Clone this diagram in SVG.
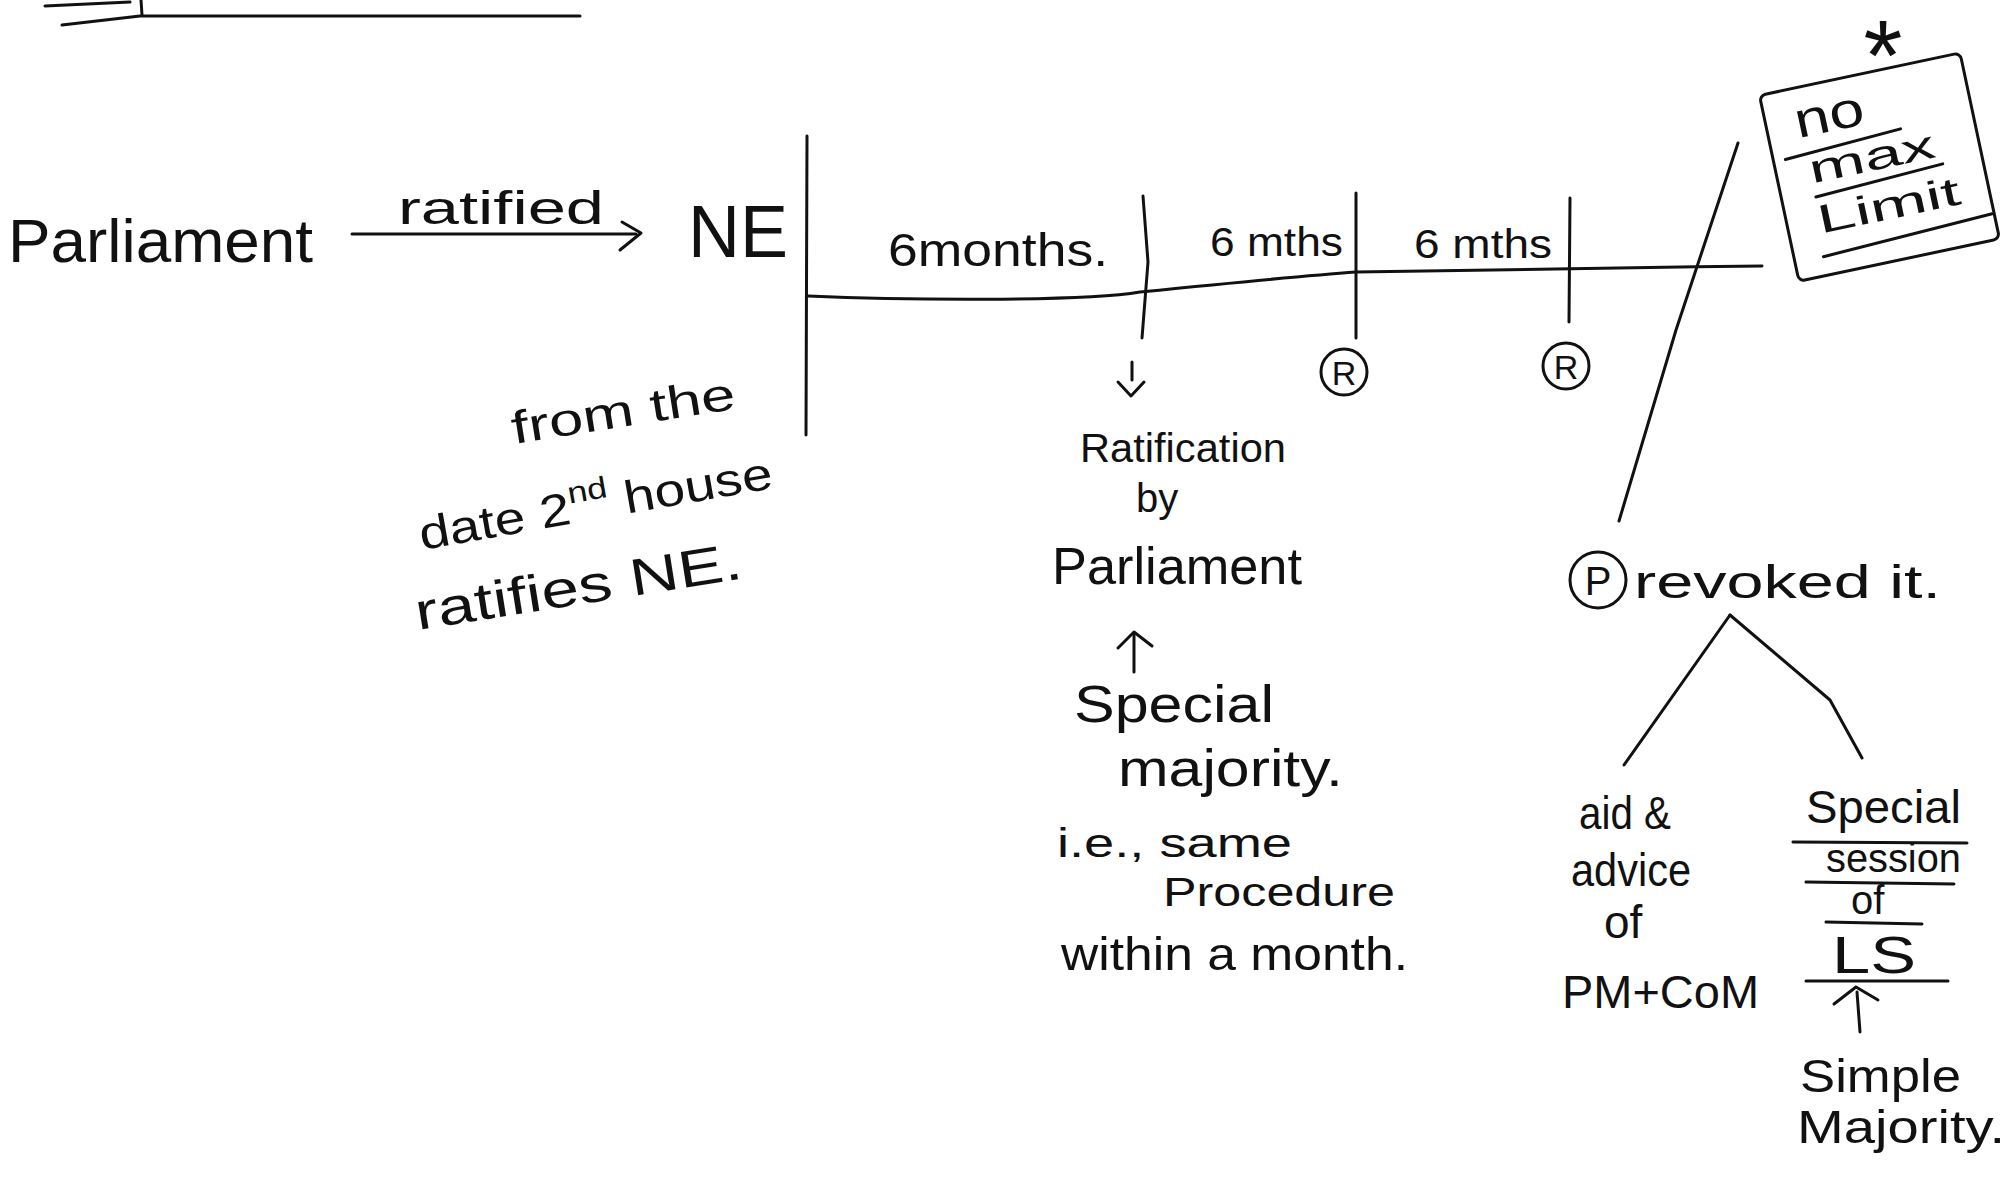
<svg xmlns="http://www.w3.org/2000/svg" width="2016" height="1188" viewBox="0 0 2016 1188">
<style>
  .ln { stroke:#111; stroke-width:3; fill:none; stroke-linecap:round; stroke-linejoin:round; }
  .t { font-family:"Liberation Sans","DejaVu Sans",sans-serif; fill:#111; }
  .s40 { font-size:40px; }
  .s46 { font-size:46px; }
  .s52 { font-size:52px; }
</style>
<rect width="2016" height="1188" fill="#fff"/>

<g id="connectors">
  <!-- top underline -->
  <path class="ln" d="M45,6 L130,2"/>
  <path class="ln" d="M62,25 L140,16 L580,16"/>
  <path class="ln" d="M141,0 L142,15"/>
  <!-- ratified arrow -->
  <path class="ln" d="M352,234 L636,234"/>
  <path class="ln" d="M622,222 L641,233 L620,250"/>
  <!-- main vertical -->
  <path class="ln" d="M807,136 L806,435"/>
  <!-- timeline -->
  <path class="ln" d="M808,296 C900,300 1080,302 1140,292 C1200,286 1300,276 1356,272 C1420,270 1600,268 1762,266"/>
  <!-- tick 1 -->
  <path class="ln" d="M1143,196 L1148,262 L1142,338"/>
  <path class="ln" d="M1132,362 L1132,380"/>
  <path class="ln" d="M1118,382 L1131,396 L1144,382"/>
  <!-- tick 2 -->
  <path class="ln" d="M1356,193 L1356,338"/>
  <!-- tick 3 -->
  <path class="ln" d="M1570,198 L1569,322"/>
  <!-- long diagonal -->
  <path class="ln" d="M1619,521 L1676,330 L1738,143"/>
  <!-- tree branches -->
  <path class="ln" d="M1730,615 L1624,765"/>
  <path class="ln" d="M1730,615 L1830,700 L1862,758"/>
  <!-- up arrow center -->
  <path class="ln" d="M1134,672 L1134,634"/>
  <path class="ln" d="M1118,648 L1134,632 L1152,646"/>
  <!-- up arrow right -->
  <path class="ln" d="M1860,1032 L1857,992"/>
  <path class="ln" d="M1834,1004 L1856,987 L1878,1000"/>
</g>

<g id="node-parliament">
  <text class="t" x="8" y="262" font-size="62" textLength="305" lengthAdjust="spacingAndGlyphs">Parliament</text>
</g>
<g id="label-ratified">
  <text class="t s46" x="398" y="224" textLength="206" lengthAdjust="spacingAndGlyphs">ratified</text>
</g>
<g id="node-ne">
  <text class="t" x="688" y="257" font-size="74" textLength="100" lengthAdjust="spacingAndGlyphs">NE</text>
</g>

<g id="note-date">
  <text class="t s46" transform="rotate(-9 514 444)" x="514" y="444" textLength="226" lengthAdjust="spacingAndGlyphs">from the</text>
  <text class="t s46" transform="rotate(-10 422 550)" x="422" y="550" textLength="358" lengthAdjust="spacingAndGlyphs">date 2<tspan font-size="30" dy="-20">nd</tspan><tspan dy="20"> house</tspan></text>
  <text class="t s52" transform="rotate(-9 418 630)" x="418" y="630" textLength="330" lengthAdjust="spacingAndGlyphs">ratifies NE.</text>
</g>

<g id="labels-periods">
  <text class="t s46" x="888" y="266" textLength="220" lengthAdjust="spacingAndGlyphs">6months.</text>
  <text class="t s40" x="1210" y="256" textLength="133" lengthAdjust="spacingAndGlyphs">6 mths</text>
  <text class="t s40" x="1414" y="258" textLength="138" lengthAdjust="spacingAndGlyphs">6 mths</text>
</g>

<g id="node-r1">
  <circle class="ln" cx="1344" cy="372" r="23"/>
  <text class="t" x="1344" y="385" font-size="34" text-anchor="middle">R</text>
</g>
<g id="node-r2">
  <circle class="ln" cx="1566" cy="366" r="23"/>
  <text class="t" x="1566" y="379" font-size="34" text-anchor="middle">R</text>
</g>

<g id="node-ratification">
  <text class="t s40" x="1080" y="462" textLength="206" lengthAdjust="spacingAndGlyphs">Ratification</text>
  <text class="t s40" x="1136" y="512">by</text>
  <text class="t s52" x="1052" y="584" textLength="250" lengthAdjust="spacingAndGlyphs">Parliament</text>
</g>

<g id="node-special-majority">
  <text class="t s52" x="1074" y="722" textLength="200" lengthAdjust="spacingAndGlyphs">Special</text>
  <text class="t s52" x="1118" y="786" textLength="225" lengthAdjust="spacingAndGlyphs">majority.</text>
  <text class="t s40" x="1057" y="857" textLength="235" lengthAdjust="spacingAndGlyphs">i.e., same</text>
  <text class="t s40" x="1163" y="906" textLength="232" lengthAdjust="spacingAndGlyphs">Procedure</text>
  <text class="t s46" x="1061" y="970" textLength="347" lengthAdjust="spacingAndGlyphs">within a month.</text>
</g>

<g id="node-no-max-limit">
  <text class="t" x="1883" y="90" font-size="100" text-anchor="middle">*</text>
  <g transform="rotate(-12 1880 167)">
    <rect class="ln" x="1777" y="72" width="205" height="190" rx="6"/>
    <text class="t" x="1806" y="122" font-size="50" textLength="70" lengthAdjust="spacingAndGlyphs">no</text>
    <path class="ln" d="M1789,140 L1908,134"/>
    <text class="t" x="1810" y="169" font-size="40" textLength="128" lengthAdjust="spacingAndGlyphs">max</text>
    <path class="ln" d="M1811,183 L1942,177"/>
    <text class="t" x="1808" y="220" font-size="40" textLength="145" lengthAdjust="spacingAndGlyphs">Limit</text>
    <path class="ln" d="M1806,243 L1980,236"/>
  </g>
</g>

<g id="node-p-revoked">
  <circle class="ln" cx="1598" cy="580" r="28"/>
  <text class="t" x="1598" y="595" font-size="40" text-anchor="middle">P</text>
  <text class="t s46" x="1634" y="598" textLength="307" lengthAdjust="spacingAndGlyphs">revoked it.</text>
</g>

<g id="node-aid-advice">
  <text class="t s46" x="1579" y="829" textLength="92" lengthAdjust="spacingAndGlyphs">aid &amp;</text>
  <text class="t s46" x="1571" y="886" textLength="120" lengthAdjust="spacingAndGlyphs">advice</text>
  <text class="t s46" x="1604" y="938">of</text>
  <text class="t s46" x="1562" y="1008" textLength="197" lengthAdjust="spacingAndGlyphs">PM+CoM</text>
</g>

<g id="node-special-session">
  <text class="t s46" x="1806" y="823" textLength="155" lengthAdjust="spacingAndGlyphs">Special</text>
  <path class="ln" d="M1793,842 L1967,843"/>
  <text class="t s40" x="1826" y="872" textLength="135" lengthAdjust="spacingAndGlyphs">session</text>
  <path class="ln" d="M1806,882 L1954,884"/>
  <text class="t s40" x="1851" y="914">of</text>
  <path class="ln" d="M1826,922 L1922,924"/>
  <text class="t" x="1832" y="973" font-size="52" textLength="84" lengthAdjust="spacingAndGlyphs">LS</text>
  <path class="ln" d="M1806,981 L1948,981"/>
</g>

<g id="node-simple-majority">
  <text class="t s46" x="1800" y="1092" textLength="161" lengthAdjust="spacingAndGlyphs">Simple</text>
  <text class="t s46" x="1797" y="1143" textLength="208" lengthAdjust="spacingAndGlyphs">Majority.</text>
</g>
</svg>
